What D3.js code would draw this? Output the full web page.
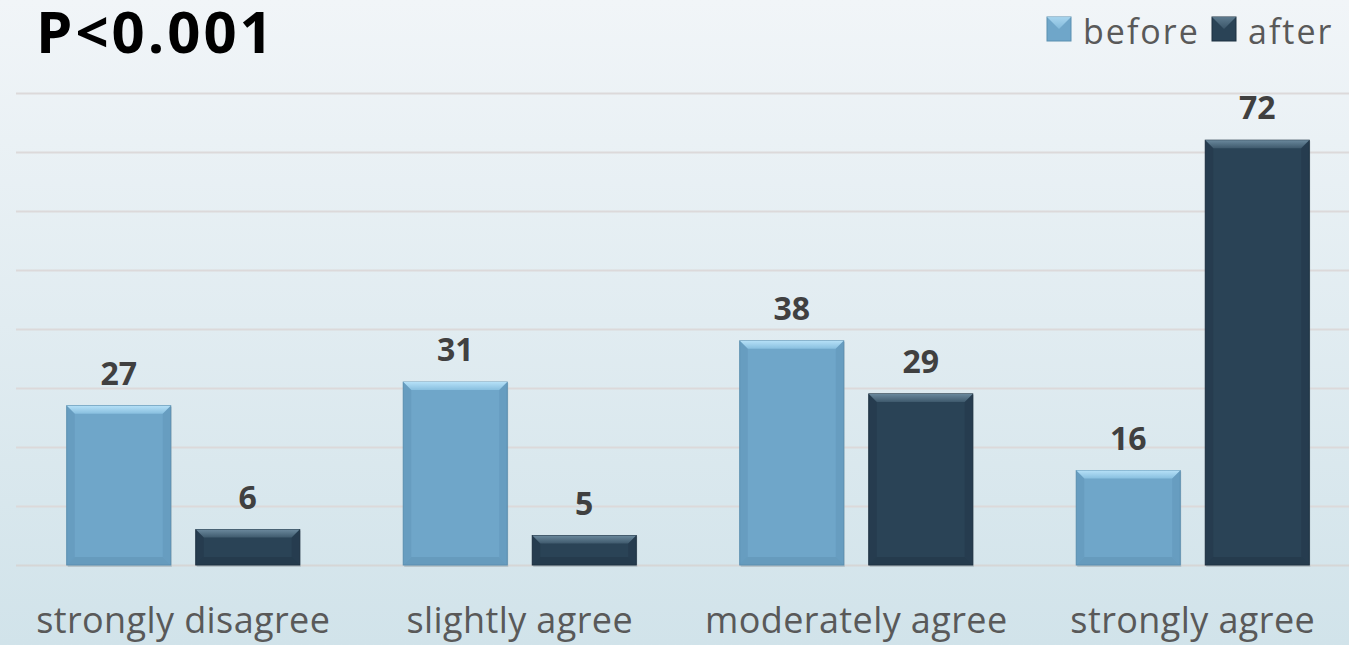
<!DOCTYPE html>
<html>
<head>
<meta charset="utf-8">
<script src="https://cdn.jsdelivr.net/npm/d3@7"></script>
<style>
  body { margin: 0; overflow: hidden; }
  text { font-family: "Open Sans", "Noto Sans", sans-serif; }
</style>
</head>
<body>
<div id="chart"></div>
<script>
  // data
  var categories = ["strongly disagree", "slightly agree", "moderately agree", "strongly agree"];
  var series = ["before", "after"];
  var before = [27, 31, 38, 16];
  var after = [6, 5, 29, 72];
  var yTicks = [0, 10, 20, 30, 40, 50, 60, 70, 80];
  var colors = {before: "#6fa6c9", after: "#2a4356"};

  var width = 1349, height = 645;

  var svg = d3.select("#chart")
    .append("svg")
      .attr("width", width)
      .attr("height", height);

  // background gradient
  var defs = svg.append("defs");
  var bg = defs.append("linearGradient")
      .attr("id", "bg").attr("x1", 0).attr("y1", 0).attr("x2", 0).attr("y2", 1);
  bg.append("stop").attr("offset", "0%").attr("stop-color", "#f1f5f8");
  bg.append("stop").attr("offset", "100%").attr("stop-color", "#d1e3ea");
  svg.append("rect")
      .attr("width", width).attr("height", height)
      .attr("fill", "url(#bg)");

  // top bevel gradients
  ["before", "after"].forEach(function (k) {
    var g = defs.append("linearGradient")
        .attr("id", "bev-" + k).attr("x1", 0).attr("y1", 0).attr("x2", 0).attr("y2", 1);
    g.append("stop").attr("offset", "0%").attr("stop-color", k === "before" ? "#b5e0f7" : "#6a889c");
    g.append("stop").attr("offset", "100%").attr("stop-color", k === "before" ? "#88bfdf" : "#3f5a6d");
  });

  // scales
  var x = d3.scaleBand()
    .domain(categories)
    .range([15, 1361]);

  var xSub = d3.scaleBand()
    .domain(series)
    .range([0, x.bandwidth()])
    .paddingInner(0.194)
    .paddingOuter(0.401);

  var y = d3.scaleLinear()
    .domain([0, 80])
    .range([565, 93]);

  // gridlines
  svg.append("g")
    .selectAll("line")
    .data(yTicks)
    .enter()
    .append("line")
      .attr("x1", 16)
      .attr("x2", width)
      .attr("y1", function (d) { return y(d) + 0.5; })
      .attr("y2", function (d) { return y(d) + 0.5; })
      .attr("stroke", function (d) { return d === 0 ? "#d6d6d6" : "#dcd9da"; })
      .attr("stroke-width", 2);

  var rows = [];
  categories.forEach(function (c, i) {
    rows.push({cat: c, key: "before", value: before[i]});
    rows.push({cat: c, key: "after", value: after[i]});
  });

  // bars with bevel
  var bars = svg.append("g")
    .selectAll("g")
    .data(rows)
    .enter()
    .append("g")
      .attr("transform", function (d) {
        return "translate(" + (x(d.cat) + xSub(d.key)) + "," + y(d.value) + ")";
      });

  var bw = xSub.bandwidth();
  var bev = 8;

  // shadow
  bars.append("rect")
      .attr("x", 1).attr("y", 1)
      .attr("width", bw)
      .attr("height", function (d) { return y(0) - y(d.value) + 1; })
      .attr("fill", "#9aa9b2")
      .attr("opacity", 0.5);

  bars.append("rect")
      .attr("width", bw)
      .attr("height", function (d) { return y(0) - y(d.value); })
      .attr("fill", function (d) { return colors[d.key]; })
      .attr("stroke", function (d) { return d.key === "before" ? "#5b8fb0" : "#1d3040"; })
      .attr("stroke-width", 1);

  // top bevel (light)
  bars.append("path")
      .attr("d", function (d) {
        var h = y(0) - y(d.value);
        var b = Math.min(bev, h / 2);
        return "M0,0 L" + bw + ",0 L" + (bw - b) + "," + b + " L" + b + "," + b + " Z";
      })
      .attr("fill", function (d) { return "url(#bev-" + d.key + ")"; });

  // side bevels (darker)
  bars.append("path")
      .attr("d", function (d) {
        var h = y(0) - y(d.value);
        var b = Math.min(bev, h / 2);
        return "M0,0 L" + b + "," + b + " L" + b + "," + (h - b) + " L0," + h + " Z" +
               "M" + bw + ",0 L" + (bw - b) + "," + b + " L" + (bw - b) + "," + (h - b) + " L" + bw + "," + h + " Z";
      })
      .attr("fill", function (d) { return d.key === "before" ? "#5e93b6" : "#213646"; })
      .attr("opacity", 0.45);

  // bottom bevel
  bars.append("path")
      .attr("d", function (d) {
        var h = y(0) - y(d.value);
        var b = Math.min(bev, h / 2);
        return "M0," + h + " L" + b + "," + (h - b) + " L" + (bw - b) + "," + (h - b) + " L" + bw + "," + h + " Z";
      })
      .attr("fill", function (d) { return d.key === "before" ? "#5a8eb0" : "#1f3342"; })
      .attr("opacity", 0.45);

  // value labels
  svg.append("g")
    .selectAll("text")
    .data(rows)
    .enter()
    .append("text")
      .attr("x", function (d) { return x(d.cat) + xSub(d.key) + bw / 2; })
      .attr("y", function (d) { return y(d.value) - 21; })
      .attr("text-anchor", "middle")
      .attr("font-size", 32)
      .attr("font-weight", "bold")
      .attr("fill", "#404040")
      .text(function (d) { return d.value; });

  // category labels
  svg.append("g")
    .selectAll("text")
    .data(categories)
    .enter()
    .append("text")
      .attr("x", function (d) { return x(d) + x.bandwidth() / 2; })
      .attr("y", 633)
      .attr("text-anchor", "middle")
      .attr("font-size", 36)
      .attr("letter-spacing", 0.4)
      .attr("fill", "#595959")
      .text(function (d) { return d; });

  // title
  svg.append("text")
      .attr("x", 36)
      .attr("y", 53)
      .attr("font-size", 58)
      .attr("font-weight", "bold")
      .attr("letter-spacing", 3)
      .attr("fill", "#000")
      .text("P<0.001");

  // legend
  var legendX = [1047, 1212];
  var legend = svg.append("g")
    .selectAll("g")
    .data(series)
    .enter()
    .append("g")
      .attr("transform", function (d, i) { return "translate(" + legendX[i] + ",17)"; });

  legend.append("rect")
      .attr("width", 24).attr("height", 24)
      .attr("fill", function (d) { return colors[d]; })
      .attr("stroke", function (d) { return d === "before" ? "#5b8fb0" : "#1d3040"; });
  legend.append("path")
      .attr("d", "M0,0 L24,0 L12,12 Z")
      .attr("fill", function (d) { return "url(#bev-" + d + ")"; })
      .attr("opacity", 0.8);

  legend.append("text")
      .attr("x", 36)
      .attr("y", 27)
      .attr("font-size", 34)
      .attr("letter-spacing", 2)
      .attr("fill", "#595959")
      .text(function (d) { return d; });
</script>
</body>
</html>
